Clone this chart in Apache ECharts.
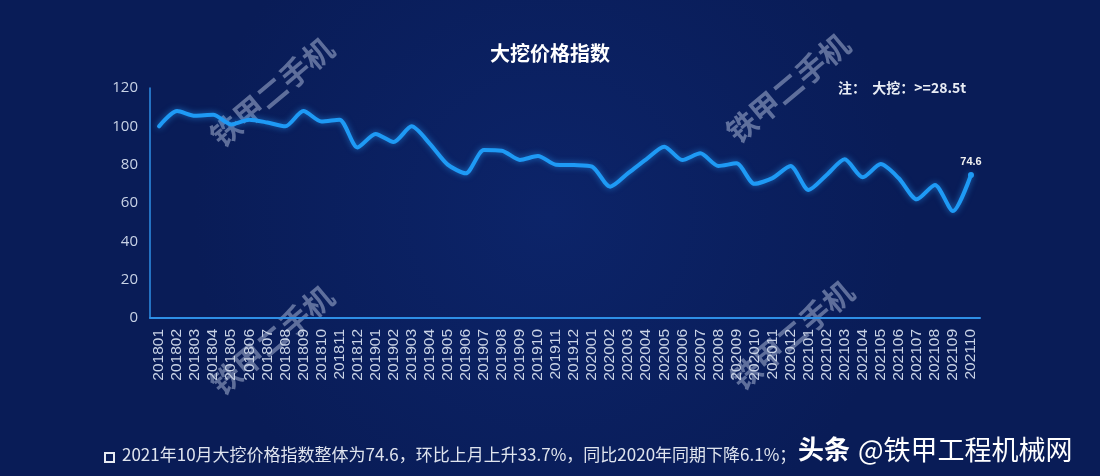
<!DOCTYPE html>
<html>
<head>
<meta charset="utf-8">
<script src="https://cdn.jsdelivr.net/npm/echarts@6/dist/echarts.min.js"></script>
<style>
html,body{margin:0;padding:0;background:#0a1f5e;}
#c{width:1100px;height:476px;}
</style>
</head>
<body>
<div id="c"></div>
<script>
const categories = ['201801','201802','201803','201804','201805','201806','201807','201808','201809','201810','201811','201812',
'201901','201902','201903','201904','201905','201906','201907','201908','201909','201910','201911','201912',
'202001','202002','202003','202004','202005','202006','202007','202008','202009','202010','202011','202012',
'202101','202102','202103','202104','202105','202106','202107','202108','202109','202110'];
const indexValues = [100,108,105.5,106,101,103.5,102,100,108,102.5,103.5,89,
96,91.8,100,91,80,75.5,87.6,87.3,82.5,84.5,80,79.8,
79,68.5,75.6,82.8,89.4,82.4,85.9,79.3,80.7,70,73,79.3,
66.8,74.6,82.8,73.4,80.3,72.9,61.9,69.4,55.8,74.6];
const yTicks = [0,20,40,60,80,100,120];
const titleText = '大挖价格指数';
const noteText = '注：  大挖：>=28.5t';
const footText = '2021年10月大挖价格指数整体为74.6，环比上月上升33.7%，同比2020年同期下降6.1%；';
const brandHead = '头条';
const brandName = '@铁甲工程机械网';
const watermark = '铁甲二手机';

const chart = echarts.init(document.getElementById('c'));
const lastIdx = indexValues.length - 1;
const wmStyle = {text: watermark, fill: 'rgba(200,210,235,0.45)', font: 'bold 30px "Noto Sans CJK SC"', align:'center', verticalAlign:'middle'};
chart.setOption({
  backgroundColor: {
    type: 'radial', x: 0.5, y: 0.45, r: 0.75,
    colorStops: [{offset:0, color:'#0c2469'},{offset:1, color:'#091c57'}]
  },
  title: {
    text: titleText, left: 'center', top: 38,
    textStyle: {color:'#ffffff', fontSize: 20, fontWeight:'bold', fontFamily:'"Noto Sans CJK SC"'}
  },
  grid: {left: 150, right: 120, top: 88, bottom: 158},
  xAxis: {
    type: 'category', data: categories, boundaryGap: true,
    axisLine: {lineStyle: {color:'#2e8fe6', width: 2}},
    axisTick: {show:false},
    axisLabel: {interval: 0, rotate: 90, color:'#c9d3e6', fontSize: 15.5, fontFamily:'"Liberation Sans", Arial', margin: 11}
  },
  yAxis: {
    type: 'value', min: 0, max: 120, interval: 20,
    axisLine: {show:true, lineStyle: {color:'#2e8fe6', width: 1.5}},
    axisTick: {show:false},
    splitLine: {show:false},
    axisLabel: {color:'#c9d3e6', fontSize: 15, margin: 12, fontFamily:'"Open Sans", Arial',
      formatter: v => yTicks.includes(v) ? String(v) : ''}
  },
  series: [{
    type: 'line', data: indexValues.map((v,i)=> i===lastIdx ? {value:v, symbol:'circle', symbolSize:6,
      label:{show:true, position:'top', color:'#f0f0f0', fontSize:11, fontWeight:'bold', formatter: p=>p.value}} : v),
    smooth: 0.25, symbol: 'none', showSymbol: true,
    lineStyle: {color:'#1e9af5', width: 4, shadowColor:'rgba(40,160,255,0.6)', shadowBlur: 6, cap:'round', join:'round'},
    itemStyle: {color:'#1e9af5'}
  }],
  graphic: [
    {type:'text', left: 838, top: 81, style:{text: noteText, fill:'#e8ecf4', font:'bold 14px "Noto Sans CJK SC"'}},
    {type:'text', x: 272, y: 92, rotation: Math.PI*40/180, style: wmStyle},
    {type:'text', x: 788, y: 88, rotation: Math.PI*40/180, style: wmStyle},
    {type:'text', x: 272, y: 340, rotation: Math.PI*40/180, style: wmStyle},
    {type:'text', x: 792, y: 335, rotation: Math.PI*40/180, style: wmStyle},
    {type:'rect', shape:{x:105, y:453, width:9, height:9}, style:{fill:'none', stroke:'#e6eaf2', lineWidth:2}},
    {type:'text', left: 122, top: 446, style:{text: footText, fill:'#dfe4ee', font:'17px "Noto Sans CJK SC"'}},
    {type:'text', left: 798, top: 436, style:{text: brandHead, fill:'#ffffff', font:'bold 26px "Noto Sans CJK SC"'}},
    {type:'text', left: 858, top: 436, style:{text: brandName, fill:'#ffffff', font:'27px "Noto Sans CJK SC"'}}
  ]
});
</script>
</body>
</html>
